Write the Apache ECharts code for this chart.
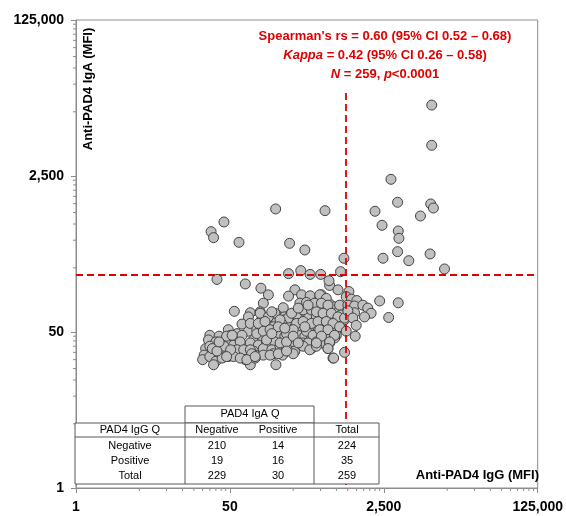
<!DOCTYPE html>
<html>
<head>
<meta charset="utf-8">
<script src="https://cdn.jsdelivr.net/npm/echarts@6/dist/echarts.min.js"></script>
<style>
  html, body { margin: 0; padding: 0; background: #fff; }
  #chart { width: 566px; height: 516px; }
</style>
</head>
<body>
<div id="chart"></div>
<script>
// anti-PAD4 IgG (x) vs IgA (y), MFI, grouped by quadrant
const upperLeft = [[160,1094],[561,1048],[43,789],[31,619],[33,533],[63,474],[228,462],[336,391],[908,318],[222,216],[303,233],[384,212],[503,212],[833,227]]
const upperRight = [[8450,14800],[8450,5400],[3000,2300],[3550,1294],[8240,1240],[8820,1120],[2000,1032],[6350,917],[2390,726],[3610,630],[3670,524],[3550,375],[8110,354],[2450,318],[4720,299],[11700,243]]
const lowerRight = [[2250,109],[3610,104],[2830,72],[1030,138],[962,121],[1100,114],[1260,110],[1004,98],[1189,96],[1467,98],[1663,91],[1810,80],[1530,73],[1189,81],[1004,85],[1138,71],[1240,59],[962,51],[1209,45]]
const lowerLeft = [
  [36,187],[74,167],[110,150],[261,144],[631,161],[621,181],[780,144],[133,127],[222,123],[309,127],[384,124],[512,127],[491,112],[556,110],[117,103],[194,92],[296,103],[350,105],[432,98],[631,101],[716,94],[826,96],[56,84],[84,81],[108,83],[161,77],[199,73],[272,77],[336,83],[414,87],[470,80],[580,83],[767,81],[848,77],[80,73],[68,61],[112,68],[133,71],[164,65],[202,68],[230,62],[296,62],[365,71],[432,65],[556,68],[659,65],[813,62],[923,68],
  [48,53],[60,48],[80,51],[108,55],[127,52],[157,55],[179,51],[220,48],[261,57],[314,53],[381,57],[470,55],[556,51],[659,55],[748,46],
  [30,46],[38,45],[51,46],[68,46],[91,41],[112,45],[133,43],[171,46],[202,45],[240,41],[284,46],[336,45],[397,45],[512,46],[605,45],[716,43],
  [29,41],[35,39],[45,38],[55,36],[65,39],[84,38],[103,36],[127,38],[157,39],[186,36],[220,36],[261,38],[322,38],[414,39],[512,38],[631,38],
  [27,33],[30,35],[38,32],[46,31],[60,32],[71,32],[91,31],[117,33],[145,32],[179,35],[211,33],[261,31],[397,33],[605,33],
  [26,28],[25,25],[30,27],[35,24],[41,26],[48,27],[55,27],[74,25],[95,28],[117,28],[151,29],[191,28],[250,29],[687,26],
  [33,22],[84,22],[161,22],
  [84,62],[99,53],[46,45],[53,46],[43,35],[51,32],[84,32],[32,33],[36,31],[65,26],[87,29],[95,26],[77,25],[46,27],[38,39],
  [157,80],[108,80],[133,73],[220,71],[322,87],[397,87],[432,103],[365,98],[451,73],[103,62],[122,65],[151,57],[186,62],[272,62],[322,65],[397,62],[470,65],[99,48],[117,51],[139,53],[211,48],[250,53],[350,51],[414,46],[127,41],[179,38],[211,39],[309,36],[365,38],[451,39],[139,28],[171,29],[211,31],[322,35],[381,32],[451,35],[95,27],
  [491,127],[580,116],[512,103],[605,98],[813,98],[451,83],[534,80],[659,80],[780,73],[923,71],[580,65],[687,62],[813,57],[491,53],[605,53],[716,46],[512,45],[631,39],[605,33],[698,26],[923,30],[451,38],
  [145,83],[179,68],[240,80],[284,91],[336,57],[171,57],[202,55],[250,45],[284,38],[145,48]
]

const iggCutoff = 940
const igaCutoff = 209
const cutoffTop = 20000
const axisMin = 1
const axisMax = 125000

// 2x2 table
const tableColHead = 'PAD4 IgA Q'
const tableRowHead = 'PAD4 IgG Q'
const tableCols = ['Negative', 'Positive', 'Total']
const tableRows = ['Negative', 'Positive', 'Total']
const tableValues = [[210, 14, 224], [19, 16, 35], [229, 30, 259]]

const axisGray = '#8c8c8c'
const red = '#e00000'
const font = 'Liberation Sans, Arial, sans-serif'

const chart = echarts.init(document.getElementById('chart'))

const fmt = v => Math.round(v).toLocaleString('en-US')

chart.setOption({
    animation: false,
    grid: {
        left: 76, right: 25, top: 20, bottom: 28,
        show: true, borderColor: axisGray, borderWidth: 1
    },
    xAxis: {
        type: 'log', logBase: 50, min: axisMin, max: axisMax, interval: 1,
        axisLine: { lineStyle: { color: axisGray } },
        axisTick: { show: true, length: 5, lineStyle: { color: axisGray } },
        splitLine: { show: false },
        axisLabel: { formatter: fmt, color: '#000', fontWeight: 'bold', fontSize: 14, fontFamily: font, margin: 12 }
    },
    yAxis: {
        type: 'log', logBase: 50, min: axisMin, max: axisMax, interval: 1,
        axisLine: { lineStyle: { color: axisGray } },
        axisTick: { show: true, length: 5, lineStyle: { color: axisGray } },
        splitLine: { show: false },
        axisLabel: { formatter: fmt, color: '#000', fontWeight: 'bold', fontSize: 14, fontFamily: font, margin: 12 }
    },
    series: [{
        type: 'scatter',
        data: [].concat(lowerLeft, lowerRight, upperLeft, upperRight),
        symbolSize: 10,
        itemStyle: { color: '#c0c0c0', borderColor: '#404040', borderWidth: 1, opacity: 1 },
        markLine: {
            silent: true,
            symbol: 'none',
            label: { show: false },
            lineStyle: { color: red, type: [7, 4], width: 1.8 },
            data: [
                [{ coord: [iggCutoff, cutoffTop] }, { coord: [iggCutoff, axisMin] }],
                [{ coord: [axisMin, igaCutoff] }, { coord: [axisMax, igaCutoff] }]
            ]
        }
    }]
})

// extra graphics: minor ticks, titles, annotation and table
const g = []
const x0 = chart.convertToPixel({ xAxisIndex: 0 }, axisMin)
const y0 = chart.convertToPixel({ yAxisIndex: 0 }, axisMin)
for (const base of [1, 50, 2500]) {
    for (let m = 5; m < 50; m += 5) {
        const px = chart.convertToPixel({ xAxisIndex: 0 }, base * m)
        const py = chart.convertToPixel({ yAxisIndex: 0 }, base * m)
        g.push({ type: 'line', shape: { x1: px, y1: y0, x2: px, y2: y0 + 3 }, style: { stroke: axisGray, lineWidth: 1 } })
        g.push({ type: 'line', shape: { x1: x0 - 3, y1: py, x2: x0, y2: py }, style: { stroke: axisGray, lineWidth: 1 } })
    }
}

g.push({
    type: 'text', x: 88, y: 89, rotation: Math.PI / 2,
    style: { text: 'Anti-PAD4 IgA (MFI)', align: 'center', verticalAlign: 'middle', font: 'bold 13px ' + font, fill: '#000' }
})
g.push({
    type: 'text', x: 539, y: 475,
    style: { text: 'Anti-PAD4 IgG (MFI)', align: 'right', verticalAlign: 'middle', font: 'bold 13px ' + font, fill: '#000' }
})
g.push({
    type: 'text', x: 385, y: 27,
    style: {
        text: '{b|Spearman\'s rs = 0.60 (95% CI 0.52 – 0.68)}\n{i|Kappa}{b| = 0.42 (95% CI 0.26 – 0.58)}\n{i|N}{b| = 259, }{i|p}{b|<0.0001}',
        align: 'center', verticalAlign: 'top',
        rich: {
            b: { font: 'bold 13px ' + font, fill: red, lineHeight: 19 },
            i: { font: 'italic bold 13px ' + font, fill: red, lineHeight: 19 }
        }
    }
})

// table
const tStroke = { stroke: '#595959', lineWidth: 1 }
const tz = 50
g.push({ type: 'rect', z: tz, shape: { x: 185, y: 406, width: 129, height: 17 }, style: { fill: '#fff', stroke: '#595959', lineWidth: 1 } })
g.push({ type: 'rect', z: tz, shape: { x: 75, y: 423, width: 304, height: 61 }, style: { fill: '#fff', stroke: '#595959', lineWidth: 1 } })
g.push({ type: 'line', z: tz, shape: { x1: 75, y1: 437, x2: 379, y2: 437 }, style: tStroke })
g.push({ type: 'line', z: tz, shape: { x1: 185, y1: 423, x2: 185, y2: 484 }, style: tStroke })
g.push({ type: 'line', z: tz, shape: { x1: 314, y1: 423, x2: 314, y2: 484 }, style: tStroke })
const tText = (t, x, y) => ({ type: 'text', z: tz + 1, x, y, style: { text: String(t), align: 'center', verticalAlign: 'middle', font: '11px ' + font, fill: '#000' } })
const rowY = [430, 446, 461, 476]
const colX = [217, 278, 347]
g.push(tText(tableColHead, 250, 414))
g.push(tText(tableRowHead, 130, rowY[0]))
tableCols.forEach((c, i) => g.push(tText(c, colX[i], rowY[0])))
tableRows.forEach((r, i) => {
    g.push(tText(r, 130, rowY[i + 1]))
    tableValues[i].forEach((v, j) => g.push(tText(v, colX[j], rowY[i + 1])))
})

chart.setOption({ graphic: g })
</script>
</body>
</html>
